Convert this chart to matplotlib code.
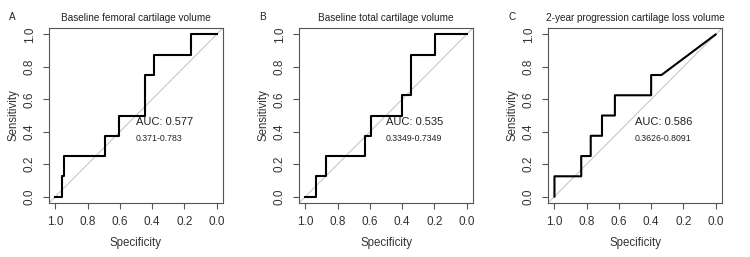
import numpy as np
import matplotlib.pyplot as plt

plt.rcParams['font.family'] = ['Liberation Sans', 'DejaVu Sans']

# ROC step points (specificity, sensitivity)
spec_a = [1.0, 0.957, 0.957, 0.944, 0.944, 0.69, 0.69, 0.605, 0.605, 0.444, 0.444, 0.386, 0.386, 0.161, 0.161, 0.0]
sens_a = [0.0, 0.0, 0.125, 0.125, 0.25, 0.25, 0.375, 0.375, 0.5, 0.5, 0.75, 0.75, 0.875, 0.875, 1.0, 1.0]

spec_b = [1.0, 0.932, 0.932, 0.872, 0.872, 0.632, 0.632, 0.593, 0.593, 0.399, 0.399, 0.342, 0.342, 0.195, 0.195, 0.0]
sens_b = [0.0, 0.0, 0.125, 0.125, 0.25, 0.25, 0.375, 0.375, 0.5, 0.5, 0.625, 0.625, 0.875, 0.875, 1.0, 1.0]

spec_c = [1.0, 1.0, 0.834, 0.834, 0.775, 0.775, 0.705, 0.705, 0.625, 0.625, 0.40, 0.40, 0.336, 0.0]
sens_c = [0.0, 0.125, 0.125, 0.25, 0.25, 0.375, 0.375, 0.5, 0.5, 0.625, 0.625, 0.75, 0.75, 1.0]

letters = ["A", "B", "C"]
titles = ["Baseline femoral cartilage volume", "Baseline total cartilage volume",
          "2-year progression cartilage loss volume"]
auc = ["AUC: 0.577", "AUC: 0.535", "AUC: 0.586"]
ci = ["0.371-0.783", "0.3349-0.7349", "0.3626-0.8091"]
specs = [spec_a, spec_b, spec_c]
senss = [sens_a, sens_b, sens_c]

fig = plt.figure(figsize=(7.5, 2.57), dpi=100)
lefts = [0.0653, 0.3987, 0.7307]
ticks = [1.0, 0.8, 0.6, 0.4, 0.2, 0.0]

for i in range(3):
    ax = fig.add_axes([lefts[i], 0.21, 0.232, 0.681])
    # chance diagonal
    ax.axline((1, 0), (0, 1), color="#c8c8c8", lw=0.8, zorder=1)
    ax.plot(specs[i], senss[i], color="black", lw=1.5, zorder=2)
    ax.set_xlim(1.04, -0.04)
    ax.set_ylim(-0.04, 1.04)
    ax.set_xticks(ticks)
    ax.set_xticklabels(["%.1f" % t for t in ticks], fontsize=8.5)
    ax.set_yticks(ticks[::-1])
    ax.set_yticklabels(["%.1f" % t for t in ticks[::-1]], fontsize=8.5, rotation=90, va="center")
    ax.tick_params(direction="out", length=4.5, width=0.8, color="#555555", labelcolor="#333333", pad=5)
    for s in ax.spines.values():
        s.set_linewidth(0.8)
        s.set_color("#555555")
    ax.set_xlabel("Specificity", fontsize=8.3, color="#333333", labelpad=6)
    ax.set_ylabel("Sensitivity", fontsize=8.3, color="#333333", labelpad=3)
    ax.set_title(titles[i], fontsize=7.2, color="#222222", pad=5)
    ax.text(0.5, 0.46, auc[i], fontsize=8, color="#222222", ha="left", va="center")
    ax.text(0.5, 0.36, ci[i], fontsize=6.3, color="#222222", ha="left", va="center")
    fig.text(lefts[i] - 0.053, 0.935, letters[i], fontsize=7.2, color="#222222", ha="left", va="center")

plt.savefig("out.png", dpi=100)
